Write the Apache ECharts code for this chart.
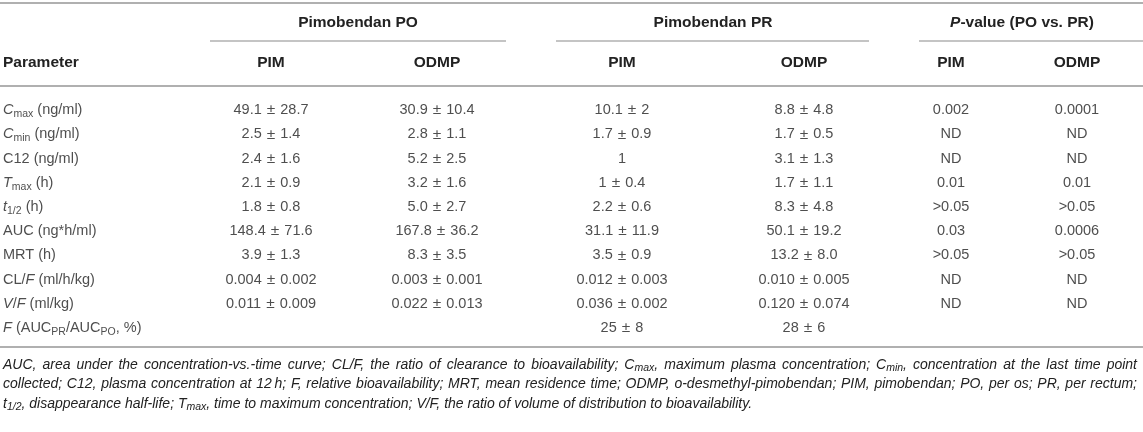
<!DOCTYPE html>
<html>
<head>
<meta charset="utf-8">
<script src="https://cdn.jsdelivr.net/npm/echarts@6/dist/echarts.min.js"></script>
<style>
html,body{margin:0;padding:0;background:#fff;}
#c{width:1143px;height:432px;}
</style>
</head>
<body>
<div id="c"></div>
<script>
// ---------- DATA ----------
const rowLabels = [
  '{i|C}{s|max} (ng/ml)',
  '{i|C}{s|min} (ng/ml)',
  'C12 (ng/ml)',
  '{i|T}{s|max} (h)',
  '{i|t}{s|1/2} (h)',
  'AUC (ng*h/ml)',
  'MRT (h)',
  'CL/{i|F} (ml/h/kg)',
  '{i|V}/{i|F} (ml/kg)',
  '{i|F} (AUC{s|PR}/AUC{s|PO}, %)'
];
const poPIM  = ['49.1 ± 28.7','2.5 ± 1.4','2.4 ± 1.6','2.1 ± 0.9','1.8 ± 0.8','148.4 ± 71.6','3.9 ± 1.3','0.004 ± 0.002','0.011 ± 0.009',''];
const poODMP = ['30.9 ± 10.4','2.8 ± 1.1','5.2 ± 2.5','3.2 ± 1.6','5.0 ± 2.7','167.8 ± 36.2','8.3 ± 3.5','0.003 ± 0.001','0.022 ± 0.013',''];
const prPIM  = ['10.1 ± 2','1.7 ± 0.9','1','1 ± 0.4','2.2 ± 0.6','31.1 ± 11.9','3.5 ± 0.9','0.012 ± 0.003','0.036 ± 0.002','25 ± 8'];
const prODMP = ['8.8 ± 4.8','1.7 ± 0.5','3.1 ± 1.3','1.7 ± 1.1','8.3 ± 4.8','50.1 ± 19.2','13.2 ± 8.0','0.010 ± 0.005','0.120 ± 0.074','28 ± 6'];
const pPIM   = ['0.002','ND','ND','0.01','>0.05','0.03','>0.05','ND','ND',''];
const pODMP  = ['0.0001','ND','ND','0.01','>0.05','0.0006','>0.05','ND','ND',''];
const columnHeads = ['Parameter','PIM','ODMP','PIM','ODMP','PIM','ODMP'];
const groupHeads = ['Pimobendan PO','Pimobendan PR','{bi|P}-value (PO vs. PR)'];
const footnotes = [
  'AUC, area under the concentration-vs.-time curve; CL/F, the ratio of clearance to bioavailability; C{s|max}, maximum plasma concentration; C{s|min}, concentration at the last time point',
  'collected; C12, plasma concentration at 12\u2009h; F, relative bioavailability; MRT, mean residence time; ODMP, o-desmethyl-pimobendan; PIM, pimobendan; PO, per os; PR, per rectum;',
  't{s|1/2}, disappearance half-life; T{s|max}, time to maximum concentration; V/F, the ratio of volume of distribution to bioavailability.'
];

// ---------- LAYOUT ----------
const W = 1143, H = 432;
const colX = [3, 271, 437, 622, 804, 951, 1077];
const groupSpans = [[210, 506], [556, 869], [919, 1143]];
const groupX = [358, 713, 1022];
const rowTop = 98, rowH = 24.2;
const FONT = '"Liberation Sans", Arial, Helvetica, sans-serif';
const TXT = '#222';
const RULE = '#b0b0b0';
const NOTE_SIZE = 14, NOTE_SUB = 10.5, NOTE_RIGHT = 1137;

const columns = [rowLabels, poPIM, poODMP, prPIM, prODMP, pPIM, pODMP];
const rowKeys = rowLabels.map((_, i) => 'r' + i);

const richRow = {
  i: {fontStyle: 'italic', fontSize: 14.5, fontFamily: FONT, color: TXT},
  s: {fontSize: 10.5, lineHeight: 10, verticalAlign: 'bottom', fontFamily: FONT, color: TXT},
  pm: {fontSize: 15.5, fontFamily: FONT, color: TXT, padding: [0, 1, 0, 1]}
};

const series = columns.map((col, c) => ({
  type: 'scatter',
  symbolSize: 0,
  silent: true,
  animation: false,
  data: col.map((v, i) => ({value: [colX[c], rowKeys[i]], txt: v})),
  label: {
    show: true,
    position: c === 0 ? 'right' : 'inside',
    distance: 0,
    align: c === 0 ? 'left' : 'center',
    verticalAlign: 'middle',
    fontSize: 14.5,
    lineHeight: 19,
    fontFamily: FONT,
    color: TXT,
    formatter: p => p.data.txt.replace(' ± ', ' {pm|±} '),
    rich: richRow
  }
}));

const graphics = [];
function line(x1, y, x2, w) {
  graphics.push({type: 'line', silent: true, shape: {x1: x1, y1: y, x2: x2, y2: y},
    style: {stroke: RULE, lineWidth: w || 1.5}});
}
line(0, 3, W, 2);
groupSpans.forEach(s => line(s[0], 41, s[1], 1.5));
line(0, 86, W, 2);
line(0, 347, W, 2);

groupHeads.forEach((t, g) => {
  graphics.push({type: 'text', silent: true, x: groupX[g], y: 23,
    style: {text: t, align: 'center', verticalAlign: 'middle', fontSize: 15.5, fontWeight: 'bold',
      fontFamily: FONT, fill: TXT,
      rich: {bi: {fontStyle: 'italic', fontWeight: 'bold', fontSize: 15.5, fontFamily: FONT, fill: TXT}}}});
});
columnHeads.forEach((t, c) => {
  graphics.push({type: 'text', silent: true, x: colX[c], y: 63,
    style: {text: t, align: c === 0 ? 'left' : 'center', verticalAlign: 'middle', fontSize: 15.5,
      fontWeight: 'bold', fontFamily: FONT, fill: TXT}});
});

// justified footnote lines (all but the last), as in the source layout
const ctx = document.createElement('canvas').getContext('2d');
function measure(str, size) {
  ctx.font = 'italic ' + size + 'px ' + FONT;
  return ctx.measureText(str).width;
}
function justify(t, target) {
  const parts = t.split(/(\{s\|[^}]*\})/);
  let width = 0, spaces = 0;
  parts.forEach(p => {
    const m = p.match(/^\{s\|([^}]*)\}$/);
    if (m) width += measure(m[1], NOTE_SUB);
    else { width += measure(p, NOTE_SIZE); spaces += (p.match(/ /g) || []).length; }
  });
  const sw = measure(' ', NOTE_SIZE);
  const extra = spaces ? Math.max(0, (target - width) / spaces) : 0;
  return {
    text: parts.map(p => /^\{s\|/.test(p) ? p : p.replace(/ /g, '{sp| }')).join(''),
    spw: sw + extra
  };
}
footnotes.forEach((t, k) => {
  const last = k === footnotes.length - 1;
  const j = last ? {text: t, spw: measure(' ', NOTE_SIZE)} : justify(t, NOTE_RIGHT - 3);
  graphics.push({type: 'text', silent: true, x: 3, y: 365 + k * 19.5,
    style: {text: j.text, align: 'left', verticalAlign: 'middle', fontSize: NOTE_SIZE, fontStyle: 'italic',
      fontFamily: FONT, fill: TXT, lineHeight: 18,
      rich: {
        s: {fontSize: NOTE_SUB, fontStyle: 'italic', lineHeight: 10, verticalAlign: 'bottom', fontFamily: FONT, fill: TXT},
        sp: {fontSize: NOTE_SIZE, fontStyle: 'italic', width: j.spw, fontFamily: FONT, fill: TXT}
      }}});
});

const chart = echarts.init(document.getElementById('c'), null, {renderer: 'canvas'});
chart.setOption({
  animation: false,
  backgroundColor: '#fff',
  grid: {left: 0, right: 0, top: rowTop, height: rowH * rowKeys.length},
  xAxis: {type: 'value', min: 0, max: W, show: false},
  yAxis: {type: 'category', data: rowKeys, inverse: true, show: false, boundaryGap: true},
  series: series,
  graphic: graphics
});
</script>
</body>
</html>
